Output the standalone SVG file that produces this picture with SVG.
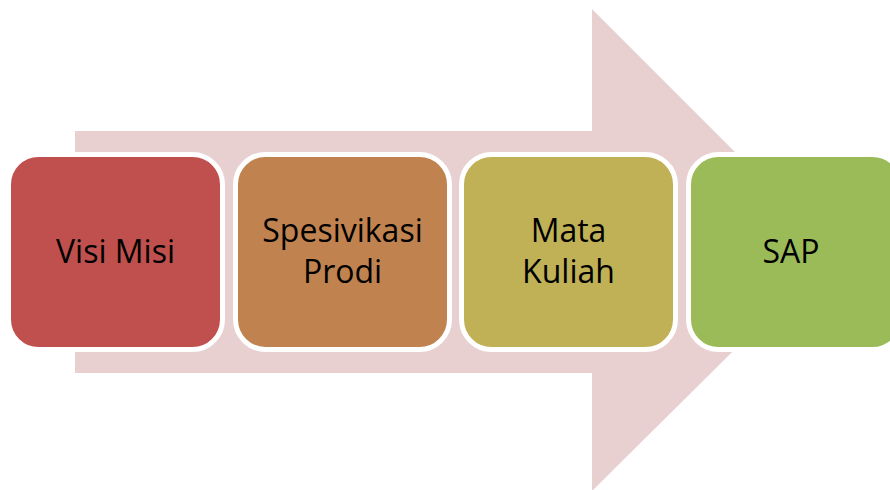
<svg xmlns="http://www.w3.org/2000/svg" width="890" height="490" viewBox="0 0 890 490">
<style>
.box{stroke:#ffffff;stroke-width:5}
.lbl{font-family:"Open Sans","Liberation Sans",sans-serif;font-size:32px;fill:#000000;text-anchor:middle}
</style>
<rect width="890" height="490" fill="#ffffff"/>
<g id="arrow">
<polygon points="75,131 592,131 592,9 834,251 592,491 592,373 75,373" fill="#E8D0D1"/>
</g>
<g id="connectors"></g>
<g id="node1">
<rect class="box" x="8.5" y="154.5" width="214" height="195" rx="30" fill="#C0504D"/>
<text class="lbl" x="115.5" y="263">Visi Misi</text>
</g>
<g id="node2">
<rect class="box" x="235.5" y="154.5" width="214" height="195" rx="30" fill="#C0834F"/>
<text class="lbl" x="342.5" y="242">Spesivikasi</text>
<text class="lbl" x="342.5" y="283">Prodi</text>
</g>
<g id="node3">
<rect class="box" x="461.5" y="154.5" width="214" height="195" rx="30" fill="#C0B056"/>
<text class="lbl" x="568.5" y="242">Mata</text>
<text class="lbl" x="568.5" y="283">Kuliah</text>
</g>
<g id="node4">
<rect class="box" x="688.5" y="154.5" width="214" height="195" rx="30" fill="#9BBB59"/>
<text class="lbl" x="791" y="263">SAP</text>
</g>
</svg>
